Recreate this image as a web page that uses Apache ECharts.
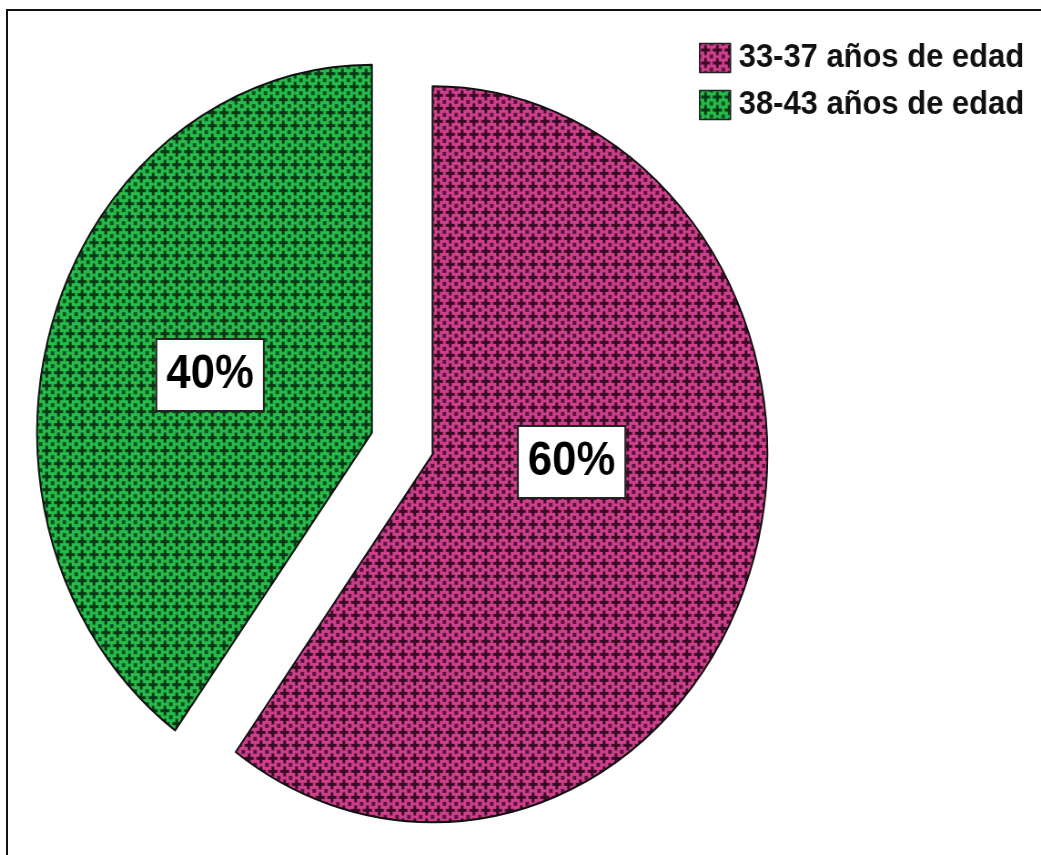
<!DOCTYPE html>
<html>
<head>
<meta charset="utf-8">
<script src="https://cdn.jsdelivr.net/npm/echarts@6/dist/echarts.min.js"></script>
<style>
  html, body { margin: 0; padding: 0; background: #fff; overflow: hidden; }
  #frame {
    position: absolute; left: 6px; top: 9px; width: 1100px; height: 900px;
    border-left: 2px solid #111; border-top: 2px solid #111;
  }
  /* The pie is drawn slightly narrower than tall, so the whole chart is squeezed horizontally. */
  #chart {
    position: absolute; left: 0; top: 0; width: 1144px; height: 855px;
    transform: scaleX(0.91); transform-origin: 0 0;
  }
</style>
</head>
<body>
<div id="frame"></div>
<div id="chart"></div>
<script>
// Age groups and their share of respondents
const categories = ['33-37 años de edad', '38-43 años de edad'];
const shares = [60, 40];
const baseColors = ['#cf3f8d', '#26bc4b'];
const crossColors = ['#3a0c24', '#0b3816'];

// Cross-hatch tile used to fill each slice
function makeTile(bg, fg) {
  const s = 13;
  const c = document.createElement('canvas');
  c.width = s; c.height = s;
  const g = c.getContext('2d');
  g.fillStyle = bg;
  g.fillRect(0, 0, s, s);
  g.fillStyle = fg;
  // central plus sign
  g.fillRect(1.5, 5, 10, 3);
  g.fillRect(5, 1.5, 3, 10);
  // softer dark blocks at the tile corners
  g.globalAlpha = 0.8;
  for (const [x, y] of [[0, 0], [s, 0], [0, s], [s, s]]) {
    g.fillRect(x - 2, y - 2, 4, 4);
  }
  g.globalAlpha = 1;
  return c;
}

const data = categories.map((name, i) => ({
  name: name,
  value: shares[i],
  selected: true,
  itemStyle: { color: { image: makeTile(baseColors[i], crossColors[i]), repeat: 'repeat' } }
}));

const chart = echarts.init(document.getElementById('chart'), null, { renderer: 'canvas' });
chart.setOption({
  animation: false,
  legend: {
    orient: 'vertical',
    left: 763,
    top: 36,
    itemWidth: 34,
    itemHeight: 29,
    itemGap: 13,
    icon: 'rect',
    selectedMode: false,
    itemStyle: { borderColor: '#222', borderWidth: 1.5 },
    textStyle: {
      fontFamily: 'Liberation Sans, Arial, sans-serif',
      fontWeight: 'bold',
      fontSize: 34,
      lineHeight: 30,
      color: '#111',
      padding: [4, 0, 0, 4]
    },
    data: categories
  },
  series: [{
    type: 'pie',
    center: [442, 443.5],
    radius: 368,
    startAngle: 90,
    clockwise: true,
    selectedMode: 'multiple',
    selectedOffset: 35,
    emphasis: { disabled: true },
    itemStyle: { borderColor: '#111', borderWidth: 2 },
    label: {
      show: true,
      position: 'inside',
      formatter: '{d}%',
      fontFamily: 'Liberation Sans, Arial, sans-serif',
      fontWeight: 'bold',
      fontSize: 48,
      color: '#000',
      backgroundColor: '#fff',
      borderColor: '#222',
      borderWidth: 2,
      padding: [12, 10, 10, 10]
    },
    labelLine: { show: false },
    labelLayout: function (params) {
      return params.dataIndex === 0 ? { dx: -25, dy: -50 } : {};
    },
    data: data
  }]
});
</script>
</body>
</html>
